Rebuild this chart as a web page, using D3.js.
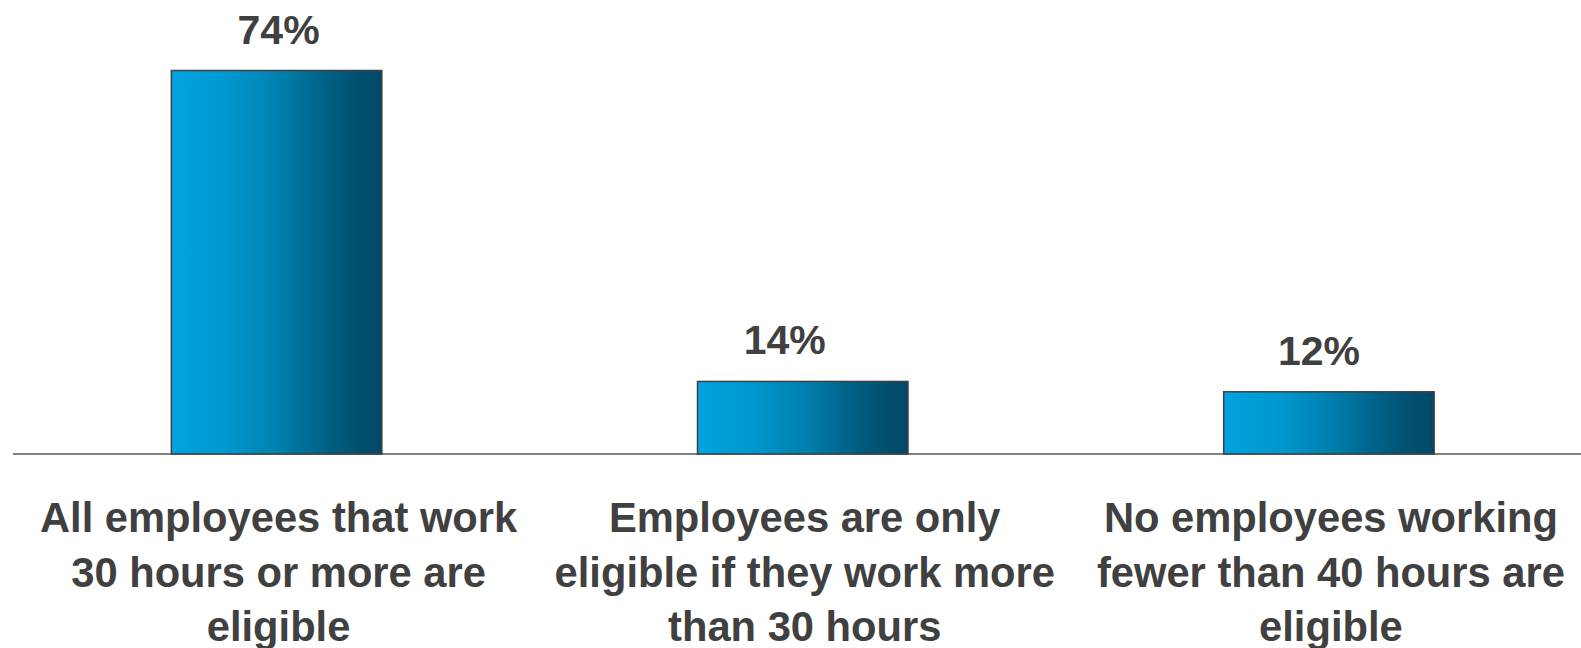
<!DOCTYPE html>
<html>
<head>
<meta charset="utf-8">
<script src="https://cdn.jsdelivr.net/npm/d3@7"></script>
<style>
  html, body { margin: 0; padding: 0; background: #ffffff; }
  svg { display: block; }
</style>
</head>
<body>
<svg id="chart" width="1581" height="648"></svg>
<script>
// Eligibility rule categories and share of respondents (%)
const categories = [
  "All employees that work 30 hours or more are eligible",
  "Employees are only eligible if they work more than 30 hours",
  "No employees working fewer than 40 hours are eligible"
];
const categoryLines = [
  ["All employees that work", "30 hours or more are", "eligible"],
  ["Employees are only", "eligible if they work more", "than 30 hours"],
  ["No employees working", "fewer than 40 hours are", "eligible"]
];
const values = [74, 14, 12];

const svg = d3.select("#chart");
const W = 1581, H = 648;
const baseY = 454;

// Horizontal nudge of each value label relative to its bar centre
const valueLabelNudge = [2, -18, -10];

const x = d3.scaleBand()
  .domain(categories)
  .range([13.5, 1592])
  .paddingInner(0.6)
  .paddingOuter(0.3);

const y = d3.scaleLinear()
  .domain([0, 74])
  .range([baseY, 70.5]);

// Horizontal blue gradient used for every bar
const defs = svg.append("defs");
const grad = defs.append("linearGradient")
  .attr("id", "barGrad")
  .attr("x1", "0%").attr("x2", "100%")
  .attr("y1", "0%").attr("y2", "0%");
[
  [0, "#00a3e0"],
  [0.25, "#0099d2"],
  [0.5, "#0081b0"],
  [0.75, "#005f84"],
  [0.9, "#004e6e"],
  [1, "#004a68"]
].forEach(([o, c]) => grad.append("stop").attr("offset", o).attr("stop-color", c));

const textColor = "#404040";
const font = "'Liberation Sans', Arial, sans-serif";

// Baseline axis
svg.append("line")
  .attr("x1", 13).attr("x2", W)
  .attr("y1", baseY).attr("y2", baseY)
  .attr("stroke", "#555555")
  .attr("stroke-width", 1.6);

// Bars
svg.selectAll("rect.bar")
  .data(values)
  .join("rect")
  .attr("class", "bar")
  .attr("x", (d, i) => x(categories[i]))
  .attr("y", d => y(d))
  .attr("width", x.bandwidth())
  .attr("height", d => baseY - y(d))
  .attr("fill", "url(#barGrad)")
  .attr("stroke", "#404040")
  .attr("stroke-width", 1.5);

// Value labels
svg.selectAll("text.value")
  .data(values)
  .join("text")
  .attr("class", "value")
  .attr("x", (d, i) => x(categories[i]) + x.bandwidth() / 2 + valueLabelNudge[i])
  .attr("y", d => y(d) - 27)
  .attr("text-anchor", "middle")
  .attr("font-family", font)
  .attr("font-weight", "bold")
  .attr("font-size", 41)
  .attr("fill", textColor)
  .text(d => d + "%");

// Category labels (three lines each)
const labelG = svg.selectAll("text.cat")
  .data(categoryLines)
  .join("text")
  .attr("class", "cat")
  .attr("text-anchor", "middle")
  .attr("font-family", font)
  .attr("font-weight", "bold")
  .attr("font-size", 41.7)
  .attr("fill", textColor);

labelG.selectAll("tspan")
  .data((d, i) => d.map(line => ({ line, cx: x(categories[i]) + x.bandwidth() / 2 + 2 })))
  .join("tspan")
  .attr("x", d => d.cx)
  .attr("y", (d, j) => 532 + j * 54.5)
  .text(d => d.line);
</script>
</body>
</html>
